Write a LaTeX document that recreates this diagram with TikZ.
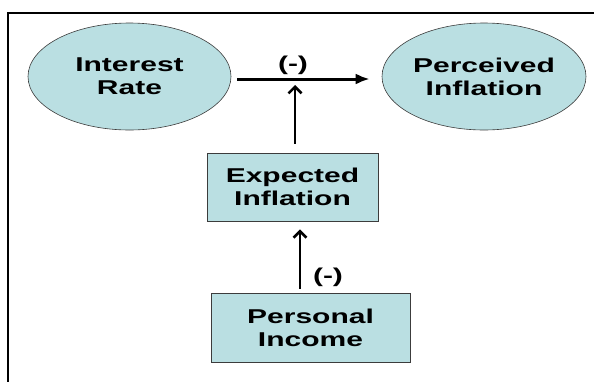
\documentclass[tikz,border=0pt]{standalone}
\usepackage{fontspec}
\setmainfont[FakeStretch=1.5]{Liberation Sans}
\usepackage{tikz}
\usetikzlibrary{arrows.meta,shapes.geometric,positioning}

\definecolor{nodefill}{RGB}{186,223,226}
\definecolor{nodeline}{RGB}{60,60,60}

\tikzset{
  factor/.style={ellipse, draw=nodeline, line width=0.6pt, fill=nodefill,
    minimum width=203pt, minimum height=107pt, inner sep=0pt, align=center,
    font=\fontsize{20}{23}\selectfont\bfseries},
  factorbox/.style={rectangle, draw=nodeline, line width=0.8pt, fill=nodefill,
    inner sep=0pt, align=center,
    font=\fontsize{20}{23}\selectfont\bfseries},
  signlabel/.style={inner sep=0pt, font=\fontsize{20}{23}\selectfont\bfseries},
  mainarrow/.style={line width=3pt, -{Latex[length=14pt,width=11pt]}},
  sidearrow/.style={line width=2.6pt, -{Straight Barb[length=6.5pt,width=13pt]}}
}

\begin{document}
\begin{tikzpicture}[x=1pt,y=1pt]
			\useasboundingbox (0,0) rectangle (594,-381);
			\draw [line width=1.6pt] (8,-13) rectangle (640,-420);

			\node [factor] (rate) at (129.5, -76.5) {Interest\\Rate};
			\node [factor, minimum width=204pt] (perceived) at (484, -76.5) {Perceived\\Inflation};
			\node [factorbox, minimum width=171pt, minimum height=68pt] (expected) at (292.5, -187) {Expected\\Inflation};
			\node [factorbox, minimum width=199pt, minimum height=69pt] (income) at (310.5, -327.5) {Personal\\Income};

			\coordinate (join) at (295, -79);
			\node [signlabel] (sign1) at (293, -65) {(-)};
			\node [signlabel] (sign2) at (328, -277) {(-)};

			\draw [mainarrow] ([xshift=6pt, yshift=-2.5pt]rate.east) to ([xshift=-12pt, yshift=-2.5pt]perceived.west);
			\draw [sidearrow] ([xshift=2.5pt, yshift=9pt]expected.north) to ([yshift=-6pt]join);
			\draw [sidearrow] ([xshift=-10.5pt, yshift=4pt]income.north) to ([xshift=7.5pt, yshift=-8pt]expected.south);
		\end{tikzpicture}
\end{document}
